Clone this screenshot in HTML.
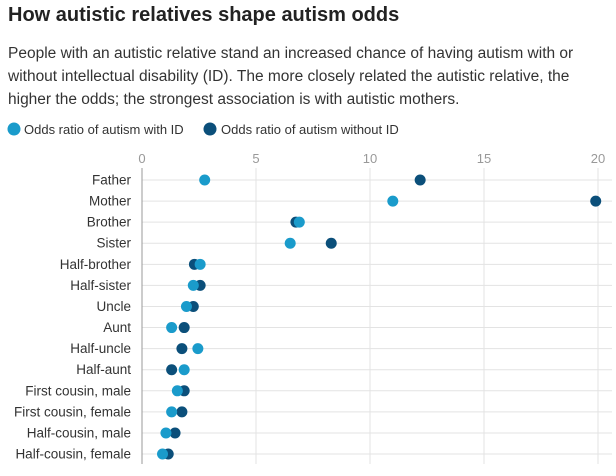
<!DOCTYPE html>
<html><head><meta charset="utf-8"><style>
body{margin:0;width:616px;height:476px;background:#fff;font-family:"Liberation Sans",sans-serif;overflow:hidden}
h1{position:absolute;left:8px;top:4px;margin:0;font-size:20px;font-weight:bold;color:#222}
p{position:absolute;left:8px;top:42px;margin:0;width:610px;font-size:15.5px;line-height:23px;color:#333;white-space:nowrap}
</style></head><body>
<h1>How autistic relatives shape autism odds</h1>
<p>People with an autistic relative stand an increased chance of having autism with or<br>without intellectual disability (ID). The more closely related the autistic relative, the<br>higher the odds; the strongest association is with autistic mothers.</p>
<svg id="c" width="616" height="476" style="position:absolute;left:0;top:0"></svg>
<script>
const categories=["Father","Mother","Brother","Sister","Half-brother","Half-sister","Uncle","Aunt","Half-uncle","Half-aunt","First cousin, male","First cousin, female","Half-cousin, male","Half-cousin, female"];
const withID=[2.75,11.0,6.9,6.5,2.55,2.25,1.95,1.3,2.45,1.85,1.55,1.3,1.05,0.9];
const withoutID=[12.2,19.9,6.75,8.3,2.3,2.55,2.25,1.85,1.75,1.3,1.85,1.75,1.45,1.15];
const ticks=[0,5,10,15,20];
const NS="http://www.w3.org/2000/svg",svg=document.getElementById('c');
const x=v=>142+v*22.8, y=i=>180+i*21.08;
function mk(t,a,txt){const e=document.createElementNS(NS,t);for(const k in a)e.setAttribute(k,a[k]);if(txt!=null)e.textContent=txt;svg.appendChild(e);return e;}
let l1=mk('circle',{cx:14,cy:129,r:6.5,fill:'#1a9bcb'});


let lt1=mk('text',{x:24,y:134,'font-size':13,fill:'#333'},'Odds ratio of autism with ID');


let l2=mk('circle',{cx:210,cy:129,r:6.5,fill:'#0b4f7a'});


let lt2=mk('text',{x:221,y:134,'font-size':13,fill:'#333'},'Odds ratio of autism without ID');


ticks.forEach(t=>{
 if(t>0){let g=mk('line',{x1:x(t),x2:x(t),y1:168,y2:464,stroke:'#e3e3e3'});
 
 }
 let tl=mk('text',{x:x(t),y:163,'text-anchor':'middle','font-size':13,fill:'#999'},t);
 
 
});
categories.forEach((c,i)=>{
 let g=mk('line',{x1:142,x2:612,y1:y(i),y2:y(i),stroke:'#e3e3e3'});
 
 
 let t=mk('text',{x:131,y:y(i)+4.5,'text-anchor':'end','font-size':13.5,fill:'#333'},c);
 
 
});
let ax=mk('line',{x1:142,x2:142,y1:168,y2:464,stroke:'#999'});


categories.forEach((c,i)=>{
 let d=mk('circle',{cx:x(withoutID[i]),cy:y(i),r:5.5,fill:'#0b4f7a'});
 
 
 let e=mk('circle',{cx:x(withID[i]),cy:y(i),r:5.5,fill:'#1a9bcb'});
 
 
});
</script>
</body></html>
